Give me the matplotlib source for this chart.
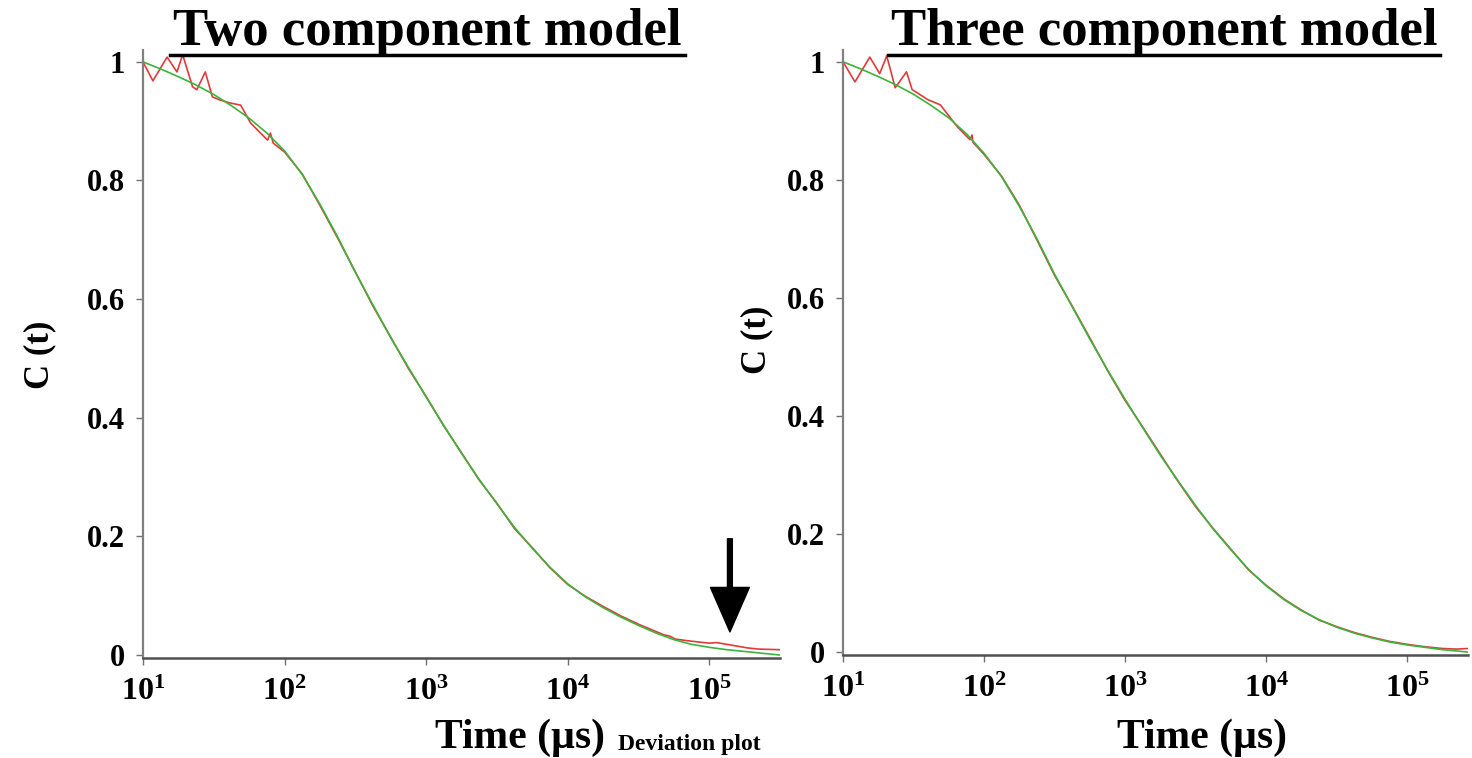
import numpy as np
import matplotlib
matplotlib.use("Agg")
import matplotlib.pyplot as plt
from matplotlib.lines import Line2D

plt.rcParams['font.family'] = ['Liberation Serif', 'DejaVu Serif']
plt.rcParams['font.weight'] = 'bold'
plt.rcParams['mathtext.fontset'] = 'custom'
plt.rcParams['mathtext.rm'] = 'Liberation Serif'
plt.rcParams['mathtext.bf'] = 'Liberation Serif:bold'

# log10 of time (us) and normalised correlation values
left_fit_logt = [1.0, 1.125, 1.25, 1.375, 1.5, 1.625, 1.75, 1.875, 2.0, 2.125, 2.25,
                 2.375, 2.5, 2.625, 2.75, 2.875, 3.0, 3.125, 3.25, 3.375, 3.5, 3.625,
                 3.75, 3.875, 4.0, 4.125, 4.25, 4.375, 4.5, 4.625, 4.75, 4.875, 5.0,
                 5.125, 5.25, 5.375, 5.5]
left_fit = [1.0, 0.988, 0.975, 0.961, 0.945, 0.926, 0.905, 0.88, 0.85, 0.81, 0.76,
            0.705, 0.645, 0.59, 0.535, 0.485, 0.435, 0.387, 0.34, 0.296, 0.255, 0.215,
            0.18, 0.148, 0.12, 0.098, 0.08, 0.064, 0.05, 0.037, 0.026, 0.018, 0.013,
            0.009, 0.006, 0.003, 0.0]

left_data_logt = [1.0, 1.07, 1.17, 1.24, 1.28, 1.35, 1.38, 1.44, 1.49, 1.54, 1.61,
                  1.69, 1.76, 1.88, 1.90, 1.92, 2.0, 2.125, 2.25, 2.375, 2.5, 2.625,
                  2.75, 2.875, 3.0, 3.125, 3.25, 3.375, 3.5, 3.625, 3.75, 3.875, 4.0,
                  4.125, 4.25, 4.375, 4.5, 4.6, 4.68, 4.72, 4.76, 4.85, 5.0, 5.05,
                  5.15, 5.27, 5.35, 5.5]
left_data = [1.0, 0.968, 1.008, 0.983, 1.012, 0.958, 0.953, 0.983, 0.941, 0.936, 0.931,
             0.927, 0.897, 0.868, 0.88, 0.863, 0.848, 0.811, 0.758, 0.703, 0.646, 0.588,
             0.536, 0.483, 0.436, 0.386, 0.341, 0.295, 0.256, 0.213, 0.181, 0.147, 0.119,
             0.099, 0.082, 0.066, 0.052, 0.042, 0.034, 0.032, 0.027, 0.024, 0.02, 0.021,
             0.017, 0.012, 0.01, 0.009]

right_fit_logt = [1.0, 1.125, 1.25, 1.375, 1.5, 1.625, 1.75, 1.875, 2.0, 2.125, 2.25,
                  2.375, 2.5, 2.625, 2.75, 2.875, 3.0, 3.125, 3.25, 3.375, 3.5, 3.625,
                  3.75, 3.875, 4.0, 4.125, 4.25, 4.375, 4.5, 4.625, 4.75, 4.875, 5.0,
                  5.125, 5.25, 5.43]
right_fit = [1.0, 0.988, 0.975, 0.961, 0.945, 0.926, 0.905, 0.878, 0.845, 0.805, 0.755,
             0.70, 0.64, 0.585, 0.53, 0.478, 0.428, 0.38, 0.333, 0.29, 0.248, 0.208,
             0.173, 0.14, 0.112, 0.089, 0.07, 0.055, 0.042, 0.032, 0.024, 0.017, 0.012,
             0.008, 0.004, 0.0]

right_data_logt = [1.0, 1.085, 1.19, 1.26, 1.31, 1.37, 1.45, 1.49, 1.60, 1.69, 1.81,
                   1.90, 1.915, 1.92, 2.0, 2.125, 2.25, 2.375, 2.5, 2.625, 2.75, 2.875,
                   3.0, 3.125, 3.25, 3.375, 3.5, 3.625, 3.75, 3.875, 4.0, 4.125, 4.25,
                   4.375, 4.5, 4.625, 4.75, 4.875, 5.0, 5.125, 5.25, 5.35, 5.43]
right_data = [1.0, 0.966, 1.008, 0.98, 1.01, 0.956, 0.983, 0.953, 0.936, 0.927, 0.89,
              0.868, 0.876, 0.864, 0.843, 0.806, 0.757, 0.698, 0.638, 0.586, 0.532, 0.477,
              0.426, 0.381, 0.335, 0.289, 0.246, 0.209, 0.174, 0.139, 0.113, 0.09, 0.071,
              0.054, 0.043, 0.033, 0.025, 0.018, 0.013, 0.009, 0.006, 0.005, 0.006]

yticks = [0, 0.2, 0.4, 0.6, 0.8, 1]
ytick_labels = ['0', '0.2', '0.4', '0.6', '0.8', '1']
xticks = [1e1, 1e2, 1e3, 1e4, 1e5]
xtick_labels = [r'$\mathbf{10^{%d}}$' % k for k in range(1, 6)]

red = '#e23a3a'
green = '#3cb43c'

W, H = 1472, 758
fig = plt.figure(figsize=(W / 100, H / 100), dpi=100)


def px(x0, y0, x1, y1):
    return [x0 / W, 1 - y1 / H, (x1 - x0) / W, (y1 - y0) / H]


def style(ax, xmax):
    ax.set_xscale('log')
    ax.set_xlim(10, xmax)
    ax.set_ylim(-0.005, 1.02)
    for s in ['top', 'right']:
        ax.spines[s].set_visible(False)
    ax.spines['left'].set_color('#808080')
    ax.spines['bottom'].set_color('#505050')
    ax.spines['left'].set_linewidth(1.6)
    ax.spines['bottom'].set_linewidth(1.8)
    ax.set_yticks(yticks)
    ax.set_yticklabels(ytick_labels)
    ax.set_xticks(xticks)
    ax.set_xticklabels(xtick_labels)
    ax.xaxis.set_minor_locator(matplotlib.ticker.NullLocator())
    ax.tick_params(axis='both', direction='out', length=5, width=1, color='#707070',
                   labelsize=22, pad=8)
    ax.tick_params(axis='x', pad=9, labelsize=23)


ax1 = fig.add_axes(px(143, 50, 780, 658))
ax1.plot(10 ** np.array(left_data_logt), left_data, color=red, lw=1.2)
ax1.plot(10 ** np.array(left_fit_logt), left_fit, color=green, lw=1.2)
style(ax1, 10 ** 5.5)
ax1.annotate('', xy=(1.4e5, 0.039), xytext=(1.4e5, 0.196),
             arrowprops=dict(facecolor='black', edgecolor='black', width=3.5,
                             headwidth=28, headlength=32))

ax2 = fig.add_axes(px(843, 50, 1468, 655))
ax2.plot(10 ** np.array(right_data_logt), right_data, color=red, lw=1.2)
ax2.plot(10 ** np.array(right_fit_logt), right_fit, color=green, lw=1.2)
style(ax2, 10 ** 5.43)

# titles with underline
fig.text(427 / W, 1 - 45 / H, 'Two component model', ha='center', va='baseline',
         fontsize=38, fontweight='bold')
fig.text(1164 / W, 1 - 45 / H, 'Three component model', ha='center', va='baseline',
         fontsize=38, fontweight='bold')
fig.add_artist(Line2D([170 / W, 685 / W], [1 - 55 / H] * 2, color='black', lw=2.5,
                      transform=fig.transFigure))
fig.add_artist(Line2D([888 / W, 1440 / W], [1 - 55 / H] * 2, color='black', lw=2.5,
                      transform=fig.transFigure))

# axis labels
fig.text(40 / W, 1 - 355 / H, 'C (t)', rotation=90, ha='center', va='center',
         fontsize=25, fontweight='bold')
fig.text(757 / W, 1 - 340 / H, 'C (t)', rotation=90, ha='center', va='center',
         fontsize=25, fontweight='bold')
fig.text(520 / W, 1 - 738 / H, 'Time (\u00b5s)', ha='center', va='center',
         fontsize=30, fontweight='bold')
fig.text(1202 / W, 1 - 738 / H, 'Time (\u00b5s)', ha='center', va='center',
         fontsize=30, fontweight='bold')
fig.text(618 / W, 3 / H, 'Deviation plot', ha='left', va='bottom',
         fontsize=17, fontweight='bold')

fig.savefig('out.png', dpi=100)
